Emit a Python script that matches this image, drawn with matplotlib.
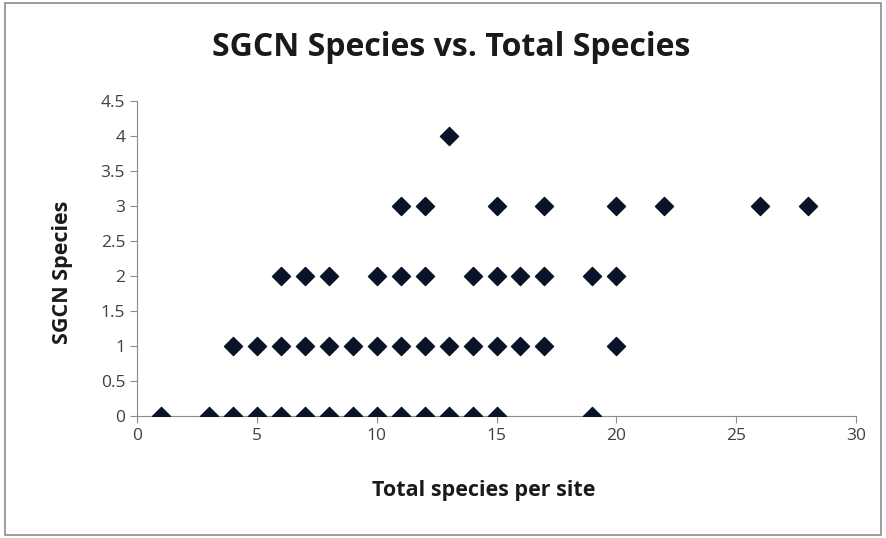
import matplotlib.pyplot as plt
from matplotlib.patches import Rectangle

plt.rcParams['font.family'] = ['Open Sans', 'DejaVu Sans']

# total species per site (x) and SGCN species (y)
total_species = [1, 3, 4, 5, 6, 7, 8, 9, 10, 11, 12, 13, 14, 15, 19,
                 4, 5, 6, 7, 8, 9, 10, 11, 12, 13, 14, 15, 16, 17, 20,
                 6, 7, 8, 10, 11, 12, 14, 15, 16, 17, 19, 20,
                 11, 12, 15, 17, 20, 22, 26, 28,
                 13]
sgcn_species = [0] * 15 + [1] * 15 + [2] * 12 + [3] * 8 + [4]

fig = plt.figure(figsize=(8.86, 5.38), dpi=100)
fig.patches.append(Rectangle((0.006, 0.006), 0.988, 0.988, transform=fig.transFigure,
                             fill=False, edgecolor='#8c8c8c', linewidth=1.2))
ax = fig.add_axes([0.1546, 0.2268, 0.8116, 0.5855])

ax.scatter(total_species, sgcn_species, marker='D', s=85, color='#0a1428', zorder=3)

ax.set_xlim(0, 30)
ax.set_ylim(0, 4.5)
ax.set_xticks(range(0, 31, 5))
ax.set_yticks([0, 0.5, 1, 1.5, 2, 2.5, 3, 3.5, 4, 4.5])
ax.set_yticklabels(['0', '0.5', '1', '1.5', '2', '2.5', '3', '3.5', '4', '4.5'])
ax.set_xticklabels([str(v) for v in range(0, 31, 5)])
ax.spines['top'].set_visible(False)
ax.spines['right'].set_visible(False)
for s in ('left', 'bottom'):
    ax.spines[s].set_color('#8c8c8c')
ax.tick_params(colors='#8c8c8c', labelcolor='#404040', labelsize=12.5, length=5)

fig.text(0.509, 0.911, 'SGCN Species vs. Total Species', fontsize=23, fontweight='bold',
         color='#1a1a1a', ha='center', va='center')
fig.text(0.546, 0.089, 'Total species per site', fontsize=15.5, fontweight='bold',
         color='#1a1a1a', ha='center', va='center')
fig.text(0.07, 0.494, 'SGCN Species', fontsize=15.5, fontweight='bold',
         color='#1a1a1a', ha='center', va='center', rotation=90)

fig.savefig('out.png', dpi=100)
